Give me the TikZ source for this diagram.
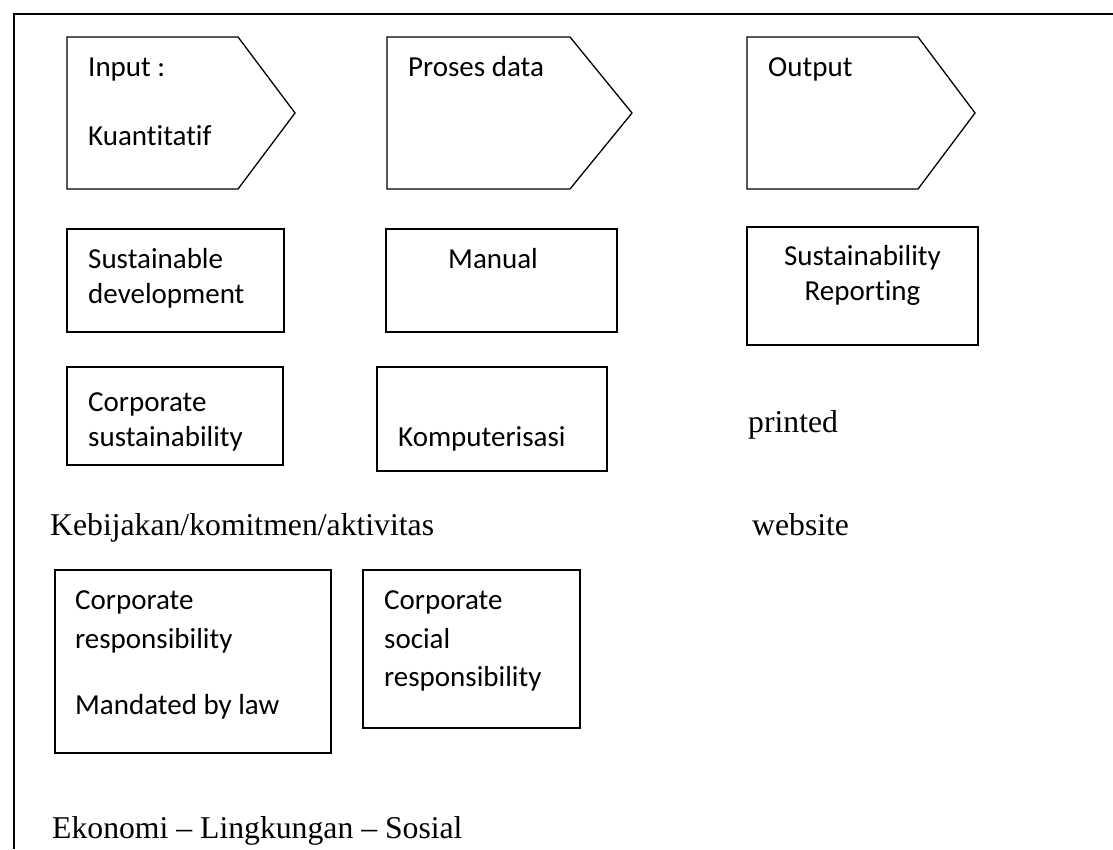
\documentclass[tikz,border=0pt]{standalone}
\usepackage{fontspec}
\setmainfont{Liberation Serif}
\newfontfamily\calfont[Ligatures=NoCommon]{Carlito}
\begin{document}
\begin{tikzpicture}[x=1pt,y=-1pt,
  box/.style={draw=black,line width=1.3pt,rectangle,inner sep=0pt,fill=none},
  pent/.style={draw=black,line width=1.3pt,line join=miter},
  frame/.style={draw=black,line width=2pt},
  cal/.style={inner sep=0pt,anchor=base west,font=\calfont\fontsize{29}{35}\selectfont},
  calc/.style={inner sep=0pt,anchor=base,font=\calfont\fontsize{29}{35}\selectfont},
  tms/.style={inner sep=0pt,anchor=base west,font=\fontsize{31.7}{38}\selectfont}]
\useasboundingbox (0,0) rectangle (1113,849);
% outer frame (top and left sides only)
\coordinate (fbl) at (14,849);
\coordinate (ftl) at (14,14);
\coordinate (ftr) at (1113,14);
\draw[frame] (fbl) -- (ftl) -- (ftr);
% pentagons
\coordinate (p1) at (67,37);
\draw[pent] (p1) -- (238,37) -- (295,113) -- (238,189) -- (67,189) -- cycle;
\coordinate (p2) at (387,37);
\draw[pent] (p2) -- (570,37) -- (632,113) -- (570,189) -- (387,189) -- cycle;
\coordinate (p3) at (747,37);
\draw[pent] (p3) -- (918,37) -- (975,113) -- (918,189) -- (747,189) -- cycle;
\node[cal] (tin) at (88,76) {Input :};
\node[cal] (tku) at (88,145) {Kuantitatif};
\node[cal] (tpd) at (408,76) {Proses data};
\node[cal] (tout) at (768,76) {Output};
% row 2
\node[box,minimum width=217,minimum height=103] (bsd) at (175.5,280.5) {};
\node[cal] (tsd1) at (88,268) {Sustainable};
\node[cal] (tsd2) at (88,303) {development};
\node[box,minimum width=231,minimum height=103] (bman) at (501.5,280.5) {};
\node[cal] (tman) at (448,268) {Manual};
\node[box,minimum width=231,minimum height=118] (bsr) at (862.5,286) {};
\node[calc] (tsr1) at (862.5,265) {Sustainability};
\node[calc] (tsr2) at (862.5,300) {Reporting};
% row 3
\node[box,minimum width=216,minimum height=98] (bcs) at (175,416) {};
\node[cal] (tcs1) at (88,411) {Corporate};
\node[cal] (tcs2) at (88,446) {sustainability};
\node[box,minimum width=230,minimum height=104] (bkom) at (492,419) {};
\node[cal] (tkom) at (398,446) {Komputerisasi};
\node[tms] (tpr) at (748,432) {printed};
% row 4
\node[tms] (tkeb) at (50,535) {Kebijakan/komitmen/aktivitas};
\node[tms] (tweb) at (752,535) {website};
\node[box,minimum width=276,minimum height=183] (bcr) at (193,661.5) {};
\node[cal] (tcr1) at (75,609) {Corporate};
\node[cal] (tcr2) at (75,648) {responsibility};
\node[cal] (tcr3) at (75,714) {Mandated by law};
\node[box,minimum width=217,minimum height=158] (bcsr) at (471.5,649) {};
\node[cal] (tcsr1) at (384,609) {Corporate};
\node[cal] (tcsr2) at (384,648) {social};
\node[cal] (tcsr3) at (384,686) {responsibility};
\node[tms] (teko) at (52,838) {Ekonomi -- Lingkungan -- Sosial};
\end{tikzpicture}
\end{document}
